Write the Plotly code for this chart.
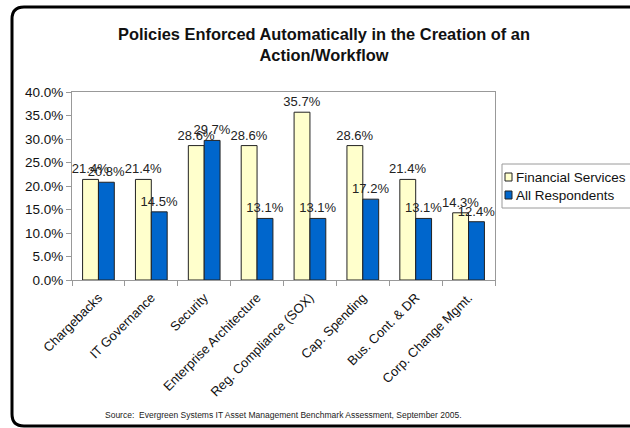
import plotly.graph_objects as go

categories = ["Chargebacks", "IT Governance", "Security", "Enterprise Architecture",
              "Reg. Compliance (SOX)", "Cap. Spending", "Bus. Cont. & DR", "Corp. Change Mgmt."]
financial_services = [21.4, 21.4, 28.6, 28.6, 35.7, 28.6, 21.4, 14.3]
all_respondents = [20.8, 14.5, 29.7, 13.1, 13.1, 17.2, 13.1, 12.4]
series_names = ["Financial Services", "All Respondents"]
series_colors = ["#FFFFCC", "#0066CC"]
y_ticks = [0, 5, 10, 15, 20, 25, 30, 35, 40]
y_tick_text = [f"{v:.1f}%" for v in y_ticks]

FONT = "Liberation Sans, Arial, sans-serif"

# plot area in pixels (630 x 428 canvas)
L, R, T, B = 72, 495, 92, 280
W, H = 630, 428


def px(x):
    return (x - L) / (R - L)


def py(y):
    return (B - y) / (B - T)


fig = go.Figure()
for name, values, color in zip(series_names, [financial_services, all_respondents], series_colors):
    fig.add_trace(go.Bar(
        x=categories, y=values, name=name,
        marker=dict(color=color, line=dict(color="#222222", width=1)),
        texttemplate="%{y:.1f}%", textposition="outside", textangle=0,
        constraintext="none",
        textfont=dict(family=FONT, size=13, color="#222222"), cliponaxis=False,
        showlegend=False,
    ))

# rounded outer frame: left side with rounded corners, top and bottom run to the canvas edge
x0, x1 = px(12), px(630)
y0, y1 = py(7), py(426)
rx = 12 / (R - L)
ry = 12 / (B - T)
fig.add_shape(type="path", xref="paper", yref="paper",
              path=(f"M {x0 + rx},{y0} Q {x0},{y0} {x0},{y0 - ry} "
                    f"L {x0},{y1 + ry} Q {x0},{y1} {x0 + rx},{y1}"),
              line=dict(color="#000000", width=3))
fig.add_shape(type="line", xref="paper", yref="paper",
              x0=x0 + rx, x1=x1, y0=y0, y1=y0, line=dict(color="#000000", width=3))
fig.add_shape(type="line", xref="paper", yref="paper",
              x0=x0 + rx, x1=x1, y0=y1, y1=y1, line=dict(color="#000000", width=3))

# legend box with swatches
fig.add_shape(type="rect", xref="paper", yref="paper",
              x0=px(502), x1=px(640), y0=py(164), y1=py(208),
              line=dict(color="#9A9A9A", width=1), fillcolor="white")
for i, (name, color) in enumerate(zip(series_names, series_colors)):
    cy = 177 + 18 * i
    fig.add_shape(type="rect", xref="paper", yref="paper",
                  x0=px(505), x1=px(512), y0=py(cy - 4), y1=py(cy + 4),
                  line=dict(color="#222222", width=1), fillcolor=color)
    fig.add_annotation(text=name, xref="paper", yref="paper", x=px(514), y=py(cy),
                       xanchor="left", yanchor="middle", showarrow=False,
                       font=dict(family=FONT, size=13.5, color="#111111"))

fig.add_annotation(
    text="Source:  Evergreen Systems IT Asset Management Benchmark Assessment, September 2005.",
    xref="paper", yref="paper", x=px(283), y=py(415), showarrow=False,
    font=dict(family=FONT, size=8.5, color="#222222"), xanchor="center", yanchor="middle",
)

fig.update_layout(
    width=W, height=H,
    margin=dict(l=L, r=W - R, t=T, b=H - B, pad=0),
    paper_bgcolor="white", plot_bgcolor="white",
    barmode="group", bargap=0.4, bargroupgap=0,
    title=dict(
        text="<b>Policies Enforced Automatically in the Creation of an<br>Action/Workflow</b>",
        x=px(324), xref="paper", xanchor="center", y=1 - 40 / H, yanchor="middle",
        font=dict(family=FONT, size=16.4, color="#111111"),
    ),
    showlegend=False,
)
fig.update_xaxes(
    type="category", tickangle=-45, tickson="boundaries", ticks="outside", ticklen=5,
    tickcolor="#999999", showline=True, linecolor="#999999", mirror=True,
    tickfont=dict(family=FONT, size=13, color="#111111"), showgrid=False,
    ticklabelstandoff=4, automargin=False,
)
fig.update_yaxes(
    range=[0, 40], tickvals=y_ticks, ticktext=y_tick_text,
    ticks="outside", ticklen=5, tickcolor="#999999", showline=True,
    linecolor="#999999", mirror=True, showgrid=False, zeroline=False,
    tickfont=dict(family=FONT, size=13.5, color="#111111"), automargin=False,
)

fig.write_html("out.html")
